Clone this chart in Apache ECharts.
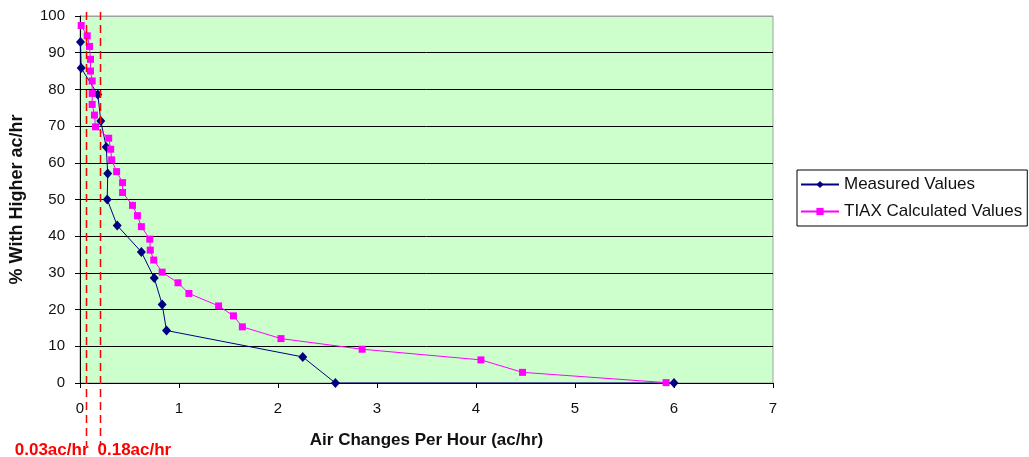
<!DOCTYPE html>
<html><head><meta charset="utf-8">
<script src="https://cdn.jsdelivr.net/npm/echarts@6/dist/echarts.min.js"></script>
<style>html,body{margin:0;padding:0;background:#fff}#c{width:1029px;height:457px}</style>
</head><body><div id="c"></div>
<script>
const measuredX = [0.005, 0.012, 0.18, 0.21, 0.265, 0.28, 0.275, 0.376, 0.62, 0.75, 0.83, 0.874, 2.25, 2.58, 6.0];
const measuredY = [92.9, 85.8, 78.6, 71.4, 64.3, 57.1, 50.0, 42.9, 35.7, 28.6, 21.4, 14.3, 7.1, 0, 0];
const tiaxX = [0.012, 0.073, 0.096, 0.106, 0.106, 0.123, 0.123, 0.123, 0.146, 0.157, 0.29, 0.31, 0.32, 0.37, 0.43, 0.43, 0.53, 0.58, 0.62, 0.705, 0.71, 0.745, 0.83, 0.99, 1.10, 1.40, 1.55, 1.64, 2.03, 2.85, 4.05, 4.47, 5.92];
const tiaxY = [97.4, 94.6, 91.7, 88.2, 85.0, 82.3, 78.9, 75.9, 73.0, 69.8, 66.7, 63.7, 60.8, 57.6, 54.6, 51.9, 48.4, 45.6, 42.6, 39.2, 36.2, 33.5, 30.2, 27.3, 24.4, 21.0, 18.3, 15.3, 12.1, 9.2, 6.3, 2.9, 0.1];
const refLineX = [0.065, 0.207];
const refLabels = ['0.03ac/hr', '0.18ac/hr'];
const xTicks = [0, 1, 2, 3, 4, 5, 6, 7];
const yTicks = [0, 10, 20, 30, 40, 50, 60, 70, 80, 90, 100];
const seriesNames = ['Measured Values', 'TIAX Calculated Values'];

const FONT = '"Liberation Sans", Arial, sans-serif';
const chart = echarts.init(document.getElementById('c'), null, {renderer: 'canvas'});
const gridColors = yTicks.map((v, i) => i === yTicks.length - 1 ? '#a0a0a0' : '#000000');
chart.setOption({
  animation: false,
  backgroundColor: '#ffffff',
  grid: {left: 79.5, right: 256, top: 16, bottom: 74, show: true, backgroundColor: '#CCFFCC', borderColor: '#a0a0a0', borderWidth: 1},
  legend: {
    orient: 'vertical', left: 797, top: 170, data: seriesNames,
    borderColor: '#000', borderWidth: 1, padding: [6, 5, 6, 3], itemGap: 10,
    itemWidth: 38, itemHeight: 9,
    textStyle: {fontFamily: FONT, fontSize: 17, color: '#111'}
  },
  xAxis: {
    type: 'value', min: xTicks[0], max: xTicks[xTicks.length - 1], interval: 1,
    name: 'Air Changes Per Hour (ac/hr)', nameLocation: 'middle', nameGap: 49,
    nameTextStyle: {fontFamily: FONT, fontSize: 17, fontWeight: 'bold', color: '#111'},
    axisLine: {show: true, lineStyle: {color: '#000', width: 1}},
    axisTick: {show: true, inside: false, length: 5, lineStyle: {color: '#000'}},
    axisLabel: {fontFamily: FONT, fontSize: 15, color: '#111', margin: 18},
    splitLine: {show: false}
  },
  yAxis: {
    type: 'value', min: yTicks[0], max: yTicks[yTicks.length - 1], interval: 10,
    name: '% With Higher ac/hr', nameLocation: 'middle', nameGap: 54, nameRotate: 90,
    nameTextStyle: {fontFamily: FONT, fontSize: 18, fontWeight: 'bold', color: '#111'},
    axisLine: {show: true, lineStyle: {color: '#000', width: 1}},
    axisTick: {show: true, inside: false, length: 5, lineStyle: {color: '#000'}},
    axisLabel: {fontFamily: FONT, fontSize: 15, color: '#111', margin: 15},
    splitLine: {show: true, lineStyle: {color: gridColors, width: 1}}
  },
  series: [
    {
      name: seriesNames[0], type: 'line', data: measuredX.map((x, i) => [x, measuredY[i]]),
      symbol: 'diamond', symbolSize: [9, 10], showSymbol: true,
      itemStyle: {color: '#000080'}, lineStyle: {color: '#000080', width: 1}, z: 3
    },
    {
      name: seriesNames[1], type: 'line', data: tiaxX.map((x, i) => [x, tiaxY[i]]),
      symbol: 'rect', symbolSize: 7, showSymbol: true,
      itemStyle: {color: '#FF00FF'}, lineStyle: {color: '#FF00FF', width: 1}, z: 4
    }
  ]
});

const graphics = [];
refLineX.forEach((v, i) => {
  const px = Math.round(chart.convertToPixel({xAxisIndex: 0}, v)) + 0.5;
  graphics.push({
    type: 'line', z: 10, silent: true,
    shape: {x1: px, y1: 12, x2: px, y2: 446},
    style: {stroke: '#FF0000', lineWidth: 1.5, lineDash: [8, 5]}
  });
  graphics.push({
    type: 'text', z: 10, silent: true,
    x: i === 0 ? px + 2 : px - 3, y: 442,
    style: {text: refLabels[i], fill: '#FF0000', font: 'bold 17px ' + FONT, textAlign: i === 0 ? 'right' : 'left', textVerticalAlign: 'top'}
  });
});
chart.setOption({graphic: graphics});
</script></body></html>
